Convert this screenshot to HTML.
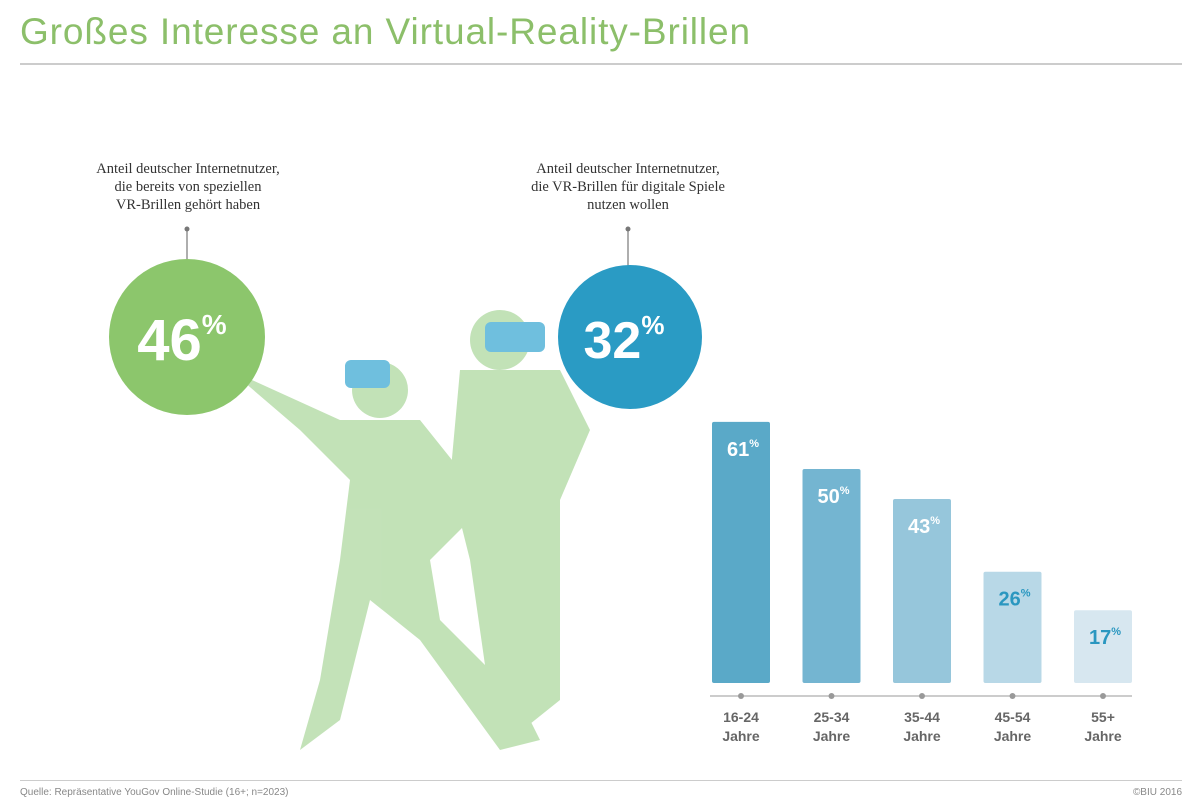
<!DOCTYPE html>
<html><head><meta charset="utf-8"><style>
body{margin:0;background:#fff;font-family:"Liberation Sans",sans-serif;}
#root{position:relative;width:1200px;height:812px;overflow:hidden;background:#fff}
.abs{position:absolute}
.cap{font-family:"Liberation Serif",serif;font-size:14.5px;color:#333;text-align:center;line-height:18px}
</style></head><body>
<div id="root">
<div class="abs" style="left:20px;top:11px;font-size:37px;color:#8cbf6a;letter-spacing:0.9px">Großes Interesse an Virtual-Reality-Brillen</div>
<div class="abs" style="left:20px;top:63px;width:1162px;height:2px;background:#ccc"></div>

<div class="abs cap" style="left:40px;top:160px;width:296px">Anteil deutscher Internetnutzer,<br>die bereits von speziellen<br>VR-Brillen gehört haben</div>
<div class="abs cap" style="left:480px;top:160px;width:296px">Anteil deutscher Internetnutzer,<br>die VR-Brillen für digitale Spiele<br>nutzen wollen</div>

<svg class="abs" style="left:0;top:0" width="1200" height="812">
 <line x1="187" y1="230" x2="187" y2="260" stroke="#777" stroke-width="1.2"/><circle cx="187" cy="229" r="2.5" fill="#777"/>
 <line x1="628" y1="230" x2="628" y2="266" stroke="#777" stroke-width="1.2"/><circle cx="628" cy="229" r="2.5" fill="#777"/>
 <g fill="#a9d69a" opacity="0.7">
  <circle cx="500" cy="340" r="30"/>
  <path d="M460 370 L560 370 L590 430 L560 500 L560 700 L510 740 L490 700 L470 560 L450 480 Z"/>
  <circle cx="380" cy="390" r="28"/>
  <path d="M230 370 L340 420 L420 420 L460 470 L470 520 L430 560 L440 620 L520 700 L540 740 L500 750 L420 640 L370 600 L340 720 L300 750 L320 680 L340 560 L350 480 L300 430 Z"/>
 </g>
 <rect x="345" y="360" width="45" height="28" rx="6" fill="#6fbfde"/>
 <rect x="485" y="322" width="60" height="30" rx="6" fill="#6fbfde"/>
 <circle cx="187" cy="337" r="78" fill="#8cc66c"/>
 <circle cx="630" cy="337" r="72" fill="#2a9bc4"/>
 <text x="182" y="360" text-anchor="middle" font-family="Liberation Sans" font-weight="bold" font-size="58" fill="#fff">46<tspan font-size="28" dy="-26">%</tspan></text>
 <text x="624" y="358" text-anchor="middle" font-family="Liberation Sans" font-weight="bold" font-size="52" fill="#fff">32<tspan font-size="26" dy="-24">%</tspan></text>
 <g id="bars"></g>
</svg>

<div class="abs" style="left:20px;top:780px;width:1162px;height:1px;background:#ccc"></div>
<div class="abs" style="left:20px;top:787px;font-size:10px;color:#888">Quelle: Repräsentative YouGov Online-Studie (16+; n=2023)</div>
<div class="abs" style="right:18px;top:787px;font-size:10px;color:#888">©BIU 2016</div>
</div>
<script>
const categories=["16-24","25-34","35-44","45-54","55+"];
const values=[61,50,43,26,17];
const barColors=["#5aa9c8","#74b5d1","#96c6db","#b8d8e7","#d7e7f0"];
const labelColors=["#fff","#fff","#fff","#2a97c0","#2a97c0"];
const NS="http://www.w3.org/2000/svg";
const g=document.getElementById('bars');
const baseY=683, pxPer=4.28, x0=712, step=90.5, bw=58;
const xs=i=>x0+i*step;
const ys=v=>baseY-v*pxPer;
function mk(t,a){const e=document.createElementNS(NS,t);for(const k in a)e.setAttribute(k,a[k]);g.appendChild(e);return e;}
const axis=mk('line',{x1:710,y1:696,x2:1132,y2:696,stroke:'#999','stroke-width':1});


values.forEach((v,i)=>{
 const x=xs(i);
 const r=mk('rect',{x:x,y:ys(v),width:bw,height:baseY-ys(v),rx:2,fill:barColors[i]});
 
 
 const t=mk('text',{x:x+bw/2+2,y:ys(v)+34,'text-anchor':'middle','font-family':'Liberation Sans','font-weight':'bold','font-size':20,fill:labelColors[i]});
 
 
 t.innerHTML=v+'<tspan font-size="11" dy="-9">%</tspan>';
 const d=mk('circle',{cx:x+bw/2,cy:696,r:3,fill:'#999'});
 
 
 const l1=mk('text',{x:x+bw/2,y:722,'text-anchor':'middle','font-family':'Liberation Sans','font-weight':'bold','font-size':14,fill:'#666'});
 
 
 l1.textContent=categories[i];
 const l2=mk('text',{x:x+bw/2,y:741,'text-anchor':'middle','font-family':'Liberation Sans','font-weight':'bold','font-size':14,fill:'#666'});
 
 
 l2.textContent='Jahre';
});
</script>
</body></html>
